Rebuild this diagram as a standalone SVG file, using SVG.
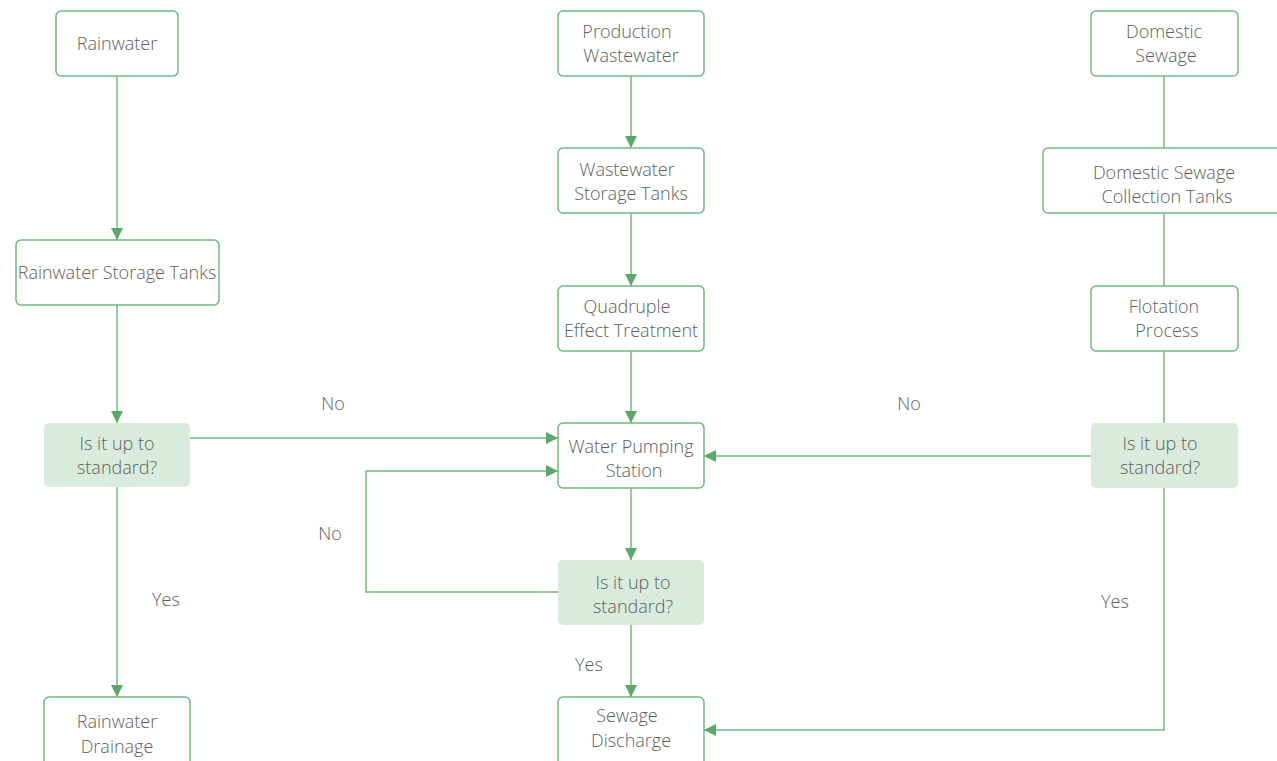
<svg xmlns="http://www.w3.org/2000/svg" width="1277" height="761" viewBox="0 0 1277 761">
  <style>
    .box { fill: #ffffff; stroke: #6dbb7f; stroke-width: 1.5; }
    .dec { fill: #d9ebdc; stroke: none; }
    .lbl { font-family: "Open Sans", "Noto Sans", "Liberation Sans", sans-serif; font-weight: 300; font-size: 18px; fill: #5e5e5e; text-anchor: middle; }
    .edge { fill: none; stroke: #6dbb7f; stroke-width: 1.5; }
  </style>
  <defs>
    <marker id="arrow" markerWidth="12" markerHeight="12" refX="12" refY="6" orient="auto" markerUnits="userSpaceOnUse">
      <path d="M0,0 L12,6 L0,12 Z" fill="#5aa96a"/>
    </marker>
  </defs>
  <rect width="1277" height="761" fill="#ffffff"/>

  <g id="connectors">
    <!-- rainwater branch -->
    <path class="edge" d="M117,76 V240" marker-end="url(#arrow)"/>
    <path class="edge" d="M117,305 V423" marker-end="url(#arrow)"/>
    <path class="edge" d="M117,487 V697" marker-end="url(#arrow)"/>
    <path class="edge" d="M190,438 H558" marker-end="url(#arrow)"/>
    <!-- production branch -->
    <path class="edge" d="M631,76 V148" marker-end="url(#arrow)"/>
    <path class="edge" d="M631,213 V286" marker-end="url(#arrow)"/>
    <path class="edge" d="M631,351 V423" marker-end="url(#arrow)"/>
    <path class="edge" d="M631,488 V560" marker-end="url(#arrow)"/>
    <path class="edge" d="M631,625 V697" marker-end="url(#arrow)"/>
    <path class="edge" d="M558,592 H366 V471 H558" marker-end="url(#arrow)"/>
    <!-- domestic branch -->
    <path class="edge" d="M1164,76 V148"/>
    <path class="edge" d="M1164,213 V286"/>
    <path class="edge" d="M1164,351 V423"/>
    <path class="edge" d="M1091,456 H704" marker-end="url(#arrow)"/>
    <path class="edge" d="M1164,488 V730 H704" marker-end="url(#arrow)"/>
  </g>

  <g id="edge-labels">
    <text class="lbl" x="333" y="410">No</text>
    <text class="lbl" x="909" y="410">No</text>
    <text class="lbl" x="330" y="540">No</text>
    <text class="lbl" x="166" y="606">Yes</text>
    <text class="lbl" x="1115" y="608">Yes</text>
    <text class="lbl" x="589" y="671">Yes</text>
  </g>

  <g id="rainwater">
    <rect class="box" x="56" y="11" width="122" height="65" rx="5"/>
    <text class="lbl" x="117" y="50">Rainwater</text>
  </g>
  <g id="rainwater-storage">
    <rect class="box" x="16" y="240" width="203" height="65" rx="5"/>
    <text class="lbl" x="117" y="279">Rainwater Storage Tanks</text>
  </g>
  <g id="rain-check">
    <rect class="dec" x="44" y="423" width="146" height="64" rx="5"/>
    <text class="lbl" x="117" y="450">Is it up to</text>
    <text class="lbl" x="117" y="474">standard?</text>
  </g>
  <g id="rainwater-drainage">
    <rect class="box" x="44" y="697" width="146" height="70" rx="5"/>
    <text class="lbl" x="117" y="728">Rainwater</text>
    <text class="lbl" x="117" y="753">Drainage</text>
  </g>

  <g id="production-wastewater">
    <rect class="box" x="558" y="11" width="146" height="65" rx="5"/>
    <text class="lbl" x="627" y="38">Production</text>
    <text class="lbl" x="631" y="62">Wastewater</text>
  </g>
  <g id="wastewater-storage">
    <rect class="box" x="558" y="148" width="146" height="65" rx="5"/>
    <text class="lbl" x="627" y="176">Wastewater</text>
    <text class="lbl" x="631" y="200">Storage Tanks</text>
  </g>
  <g id="quadruple-effect">
    <rect class="box" x="558" y="286" width="146" height="65" rx="5"/>
    <text class="lbl" x="627" y="313">Quadruple</text>
    <text class="lbl" x="631" y="337">Effect Treatment</text>
  </g>
  <g id="pumping-station">
    <rect class="box" x="558" y="423" width="146" height="65" rx="5"/>
    <text class="lbl" x="631" y="453">Water Pumping</text>
    <text class="lbl" x="634" y="477">Station</text>
  </g>
  <g id="center-check">
    <rect class="dec" x="558" y="560" width="146" height="65" rx="5"/>
    <text class="lbl" x="633" y="589">Is it up to</text>
    <text class="lbl" x="633" y="613">standard?</text>
  </g>
  <g id="sewage-discharge">
    <rect class="box" x="558" y="697" width="146" height="70" rx="5"/>
    <text class="lbl" x="627" y="722">Sewage</text>
    <text class="lbl" x="631" y="747">Discharge</text>
  </g>

  <g id="domestic-sewage">
    <rect class="box" x="1091" y="11" width="147" height="65" rx="5"/>
    <text class="lbl" x="1164" y="38">Domestic</text>
    <text class="lbl" x="1166" y="62">Sewage</text>
  </g>
  <g id="collection-tanks">
    <rect class="box" x="1043" y="148" width="240" height="65" rx="5"/>
    <text class="lbl" x="1164" y="179">Domestic Sewage</text>
    <text class="lbl" x="1167" y="203">Collection Tanks</text>
  </g>
  <g id="flotation">
    <rect class="box" x="1091" y="286" width="147" height="65" rx="5"/>
    <text class="lbl" x="1164" y="313">Flotation</text>
    <text class="lbl" x="1167" y="337">Process</text>
  </g>
  <g id="domestic-check">
    <rect class="dec" x="1091" y="423" width="147" height="65" rx="5"/>
    <text class="lbl" x="1160" y="450">Is it up to</text>
    <text class="lbl" x="1160" y="474">standard?</text>
  </g>
</svg>
